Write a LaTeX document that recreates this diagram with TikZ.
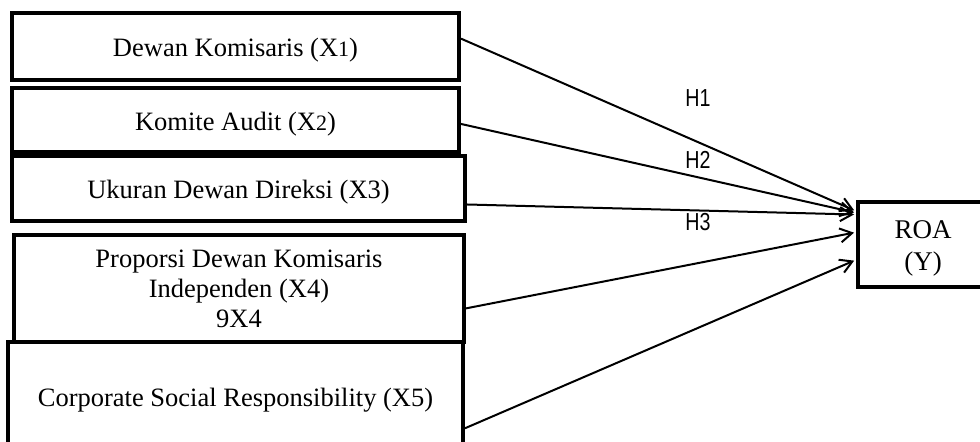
\documentclass[tikz,border=0pt]{standalone}
\usepackage{fontspec}
\setmainfont{Liberation Serif}
\newfontfamily\hypfont[FakeStretch=0.8]{Liberation Sans}
\usetikzlibrary{arrows.meta}

\begin{document}
\begin{tikzpicture}[->,>={Straight Barb[length=6pt,width=7pt]},shorten >=1pt,
                x=0.5pt,y=-0.5pt,line width=1pt,
                var node/.style={rectangle,draw,line width=2pt,inner sep=0pt,align=center,
                  font=\fontsize{13.25}{15}\selectfont,execute at begin node={\rule{0pt}{13pt}}},
                hyp label/.style={font=\hypfont\fontsize{12.3}{14}\selectfont}]

  \useasboundingbox (0,0) rectangle (980,441);

  \node[var node,minimum width=223.5pt,minimum height=33.5pt] (X1) at (235.5,46.5)
    {Dewan Komisaris (X{\fontsize{11}{11}\selectfont 1})};
  \node[var node,minimum width=223.5pt,minimum height=32pt] (X2) at (235.5,120)
    {Komite Audit (X{\fontsize{11}{11}\selectfont 2})};
  \node[var node,minimum width=226.5pt,minimum height=32.5pt] (X3) at (238.5,188.5)
    {Ukuran Dewan Direksi (X3)};
  \node[var node,minimum width=225pt,minimum height=53.5pt] (X4) at (239,288.5)
    {Proporsi Dewan Komisaris\\Independen (X4)\\9X4};
  \node[var node,minimum width=227.5pt,minimum height=54pt] (X5) at (235.5,396)
    {Corporate Social Responsibility (X5)};
  % right side of the ROA box runs off the page
  \node[var node,minimum width=85pt,minimum height=42.5pt] (Y) at (943,244.5)
    {\parbox[t]{65pt}{\centering\fontsize{13.5}{16}\selectfont ROA\\(Y)}\hspace{20pt}};

  \node[hyp label] (H1) at (698,98) {H1};
  \node[hyp label] (H2) at (698,160) {H2};
  \node[hyp label] (H3) at (698,222) {H3};

  \path
    (X1.2) edge (Y.159.7)
    (X2.-1) edge (Y.160.3)
    (X3.-4) edge (Y.161.5)
    (X4.-5) edge (Y.172.3)
    (X5.-8) edge (Y.190.3);
\end{tikzpicture}
\end{document}
